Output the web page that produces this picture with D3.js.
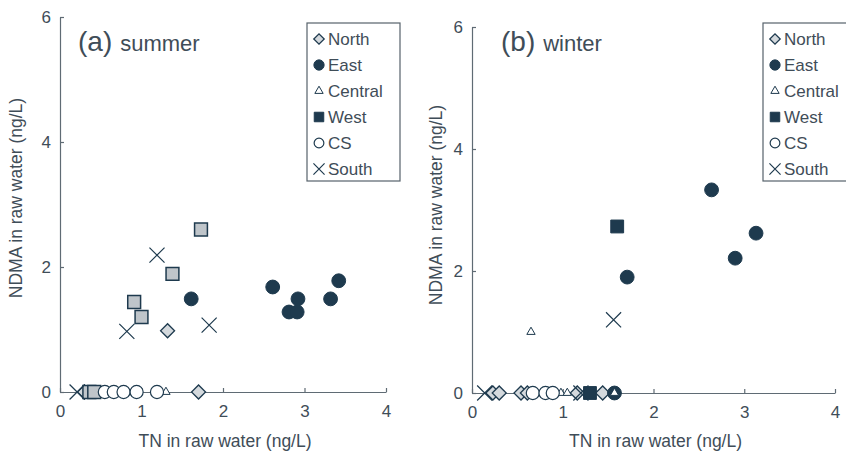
<!DOCTYPE html>
<html>
<head>
<meta charset="utf-8">
<script src="https://cdn.jsdelivr.net/npm/d3@7"></script>
<style>
  body { margin: 0; background: #fff; }
  svg text { font-family: "Liberation Sans", Arial, sans-serif; fill: #3f4d58; }
</style>
</head>
<body>
<div class="canvas"></div>
<script>
// region order used in legend
const regions = ["North", "East", "Central", "West", "CS", "South"];
const xTicks = [0, 1, 2, 3, 4];
const yTicks = [0, 2, 4, 6];

// (a) summer: [TN, NDMA]
const northA = [[0.30, 0], [1.32, 0.98], [1.70, 0]];
const eastA = [[1.61, 1.49], [2.61, 1.68], [2.81, 1.28], [2.91, 1.28], [2.92, 1.49], [3.32, 1.49], [3.42, 1.78]];
const centralA = [[1.30, 0]];
const westA = [[0.36, 0], [0.42, 0], [0.91, 1.44], [1.00, 1.20], [1.38, 1.89], [1.73, 2.60]];
const csA = [[0.55, 0], [0.66, 0], [0.78, 0], [0.94, 0], [1.19, 0]];
const southA = [[0.21, 0], [0.82, 0.97], [1.19, 2.19], [1.83, 1.07]];

// (b) winter
const northB = [[0.23, 0], [0.30, 0], [0.54, 0], [0.61, 0], [1.16, 0], [1.44, 0]];
const eastB = [[1.57, 0], [1.71, 1.90], [2.64, 3.33], [2.90, 2.21], [3.13, 2.62]];
const centralB = [[0.65, 1.0], [0.98, 0], [1.05, 0], [1.57, 0]];
const westB = [[1.30, 0], [1.60, 2.73]];
const csB = [[0.67, 0], [0.81, 0], [0.89, 0]];
const southB = [[0.14, 0], [1.20, 0], [1.56, 1.20]];

const dark = "#1e3a4e";
const light = "#d4d9dd";

const svg = d3.select(".canvas").append("svg")
    .attr("width", 846)
    .attr("height", 454);

function markStyle(region, season) {
    switch (region) {
        case "North": return { type: d3.symbolSquare, size: 98, rotate: 45, fill: light, stroke: dark, sw: 1.3 };
        case "East": return { type: d3.symbolCircle, size: 150, fill: dark, stroke: dark, sw: 1 };
        case "Central": return { type: d3.symbolTriangle, size: 30, fill: "#fff", stroke: dark, sw: 1 };
        case "West": return season === "summer"
            ? { type: d3.symbolSquare, size: 165, fill: "#bfc5ca", stroke: dark, sw: 1.5 }
            : { type: d3.symbolSquare, size: 165, fill: dark, stroke: dark, sw: 1 };
        case "CS": return { type: d3.symbolCircle, size: 135, fill: "#fff", stroke: dark, sw: 1.2 };
        case "South": return { type: d3.symbolTimes, size: 150, fill: "none", stroke: dark, sw: 1.2 };
    }
}

function drawPanel(opt) {
    const x = d3.scaleLinear().domain([0, 4]).range(opt.xRange);
    const y = d3.scaleLinear().domain([0, 6]).range(opt.yRange);
    const g = svg.append("g");

    const xAxis = g.append("g")
        .attr("transform", `translate(0,${y(0)})`)
        .call(d3.axisBottom(x).tickValues(xTicks).tickFormat(d3.format("d")).tickSize(-4).tickSizeOuter(0).tickPadding(13));
    const yAxis = g.append("g")
        .attr("transform", `translate(${x(0)},0)`)
        .call(d3.axisLeft(y).tickValues(yTicks).tickFormat(d3.format("d")).tickSize(-4).tickSizeOuter(0).tickPadding(9));
    [xAxis, yAxis].forEach(a => {
        a.select(".domain").attr("stroke", "#5f6b74").attr("stroke-width", 1.2);
        a.selectAll(".tick line").attr("stroke", "#5f6b74").attr("stroke-width", 1.2);
        a.selectAll(".tick text").attr("font-size", 17).attr("fill", "#66717a");
    });

    g.append("text")
        .attr("x", (opt.xRange[0] + opt.xRange[1]) / 2 + 2)
        .attr("y", 447)
        .attr("text-anchor", "middle")
        .attr("font-size", 17.5)
        .text("TN in raw water (ng/L)");
    g.append("text")
        .attr("transform", `translate(${opt.yLabelX},${opt.yLabelY}) rotate(-90)`)
        .attr("text-anchor", "middle")
        .attr("font-size", 17.5)
        .text("NDMA in raw water (ng/L)");

    const title = g.append("text")
        .attr("x", opt.titleX)
        .attr("y", 51);
    title.append("tspan").attr("font-size", 28).text(opt.tag);
    title.append("tspan").attr("font-size", 22).attr("dx", 8).text(opt.season);

    // points
    regions.forEach((r, i) => {
        const st = markStyle(r, opt.season);
        const sym = d3.symbol().type(st.type).size(st.size);
        g.append("g").selectAll("path")
            .data(opt.series[i])
            .join("path")
            .attr("d", sym)
            .attr("transform", d => `translate(${x(d[0])},${y(d[1])})` + (st.rotate ? ` rotate(${st.rotate})` : ""))
            .attr("fill", st.fill)
            .attr("stroke", st.stroke)
            .attr("stroke-width", st.sw);
    });

    // legend
    const lg = g.append("g").attr("transform", `translate(${opt.legendX},23)`);
    lg.append("rect")
        .attr("width", 93)
        .attr("height", 158)
        .attr("fill", "#fff")
        .attr("stroke", "#56626b")
        .attr("stroke-width", 1.2);
    regions.forEach((r, i) => {
        const st = markStyle(r, "winter");
        const scale = r === "Central" ? 1 : 0.55;
        const sym = d3.symbol().type(st.type).size(st.size * scale);
        const yy = 16 + i * 26;
        lg.append("path")
            .attr("d", sym)
            .attr("transform", `translate(12,${yy})` + (st.rotate ? ` rotate(${st.rotate})` : ""))
            .attr("fill", st.fill)
            .attr("stroke", st.stroke)
            .attr("stroke-width", st.sw);
        lg.append("text")
            .attr("x", 21)
            .attr("y", yy + 6)
            .attr("font-size", 17)
            .attr("fill", "#3a4853")
            .text(r);
    });
}

drawPanel({
    xRange: [60, 386], yRange: [392, 17],
    tag: "(a)", season: "summer", titleX: 78,
    yLabelX: 22, yLabelY: 198, legendX: 307,
    series: [northA, eastA, centralA, westA, csA, southA]
});
drawPanel({
    xRange: [472, 835], yRange: [393, 27],
    tag: "(b)", season: "winter", titleX: 501,
    yLabelX: 442, yLabelY: 205, legendX: 763,
    series: [northB, eastB, centralB, westB, csB, southB]
});
</script>
</body>
</html>
